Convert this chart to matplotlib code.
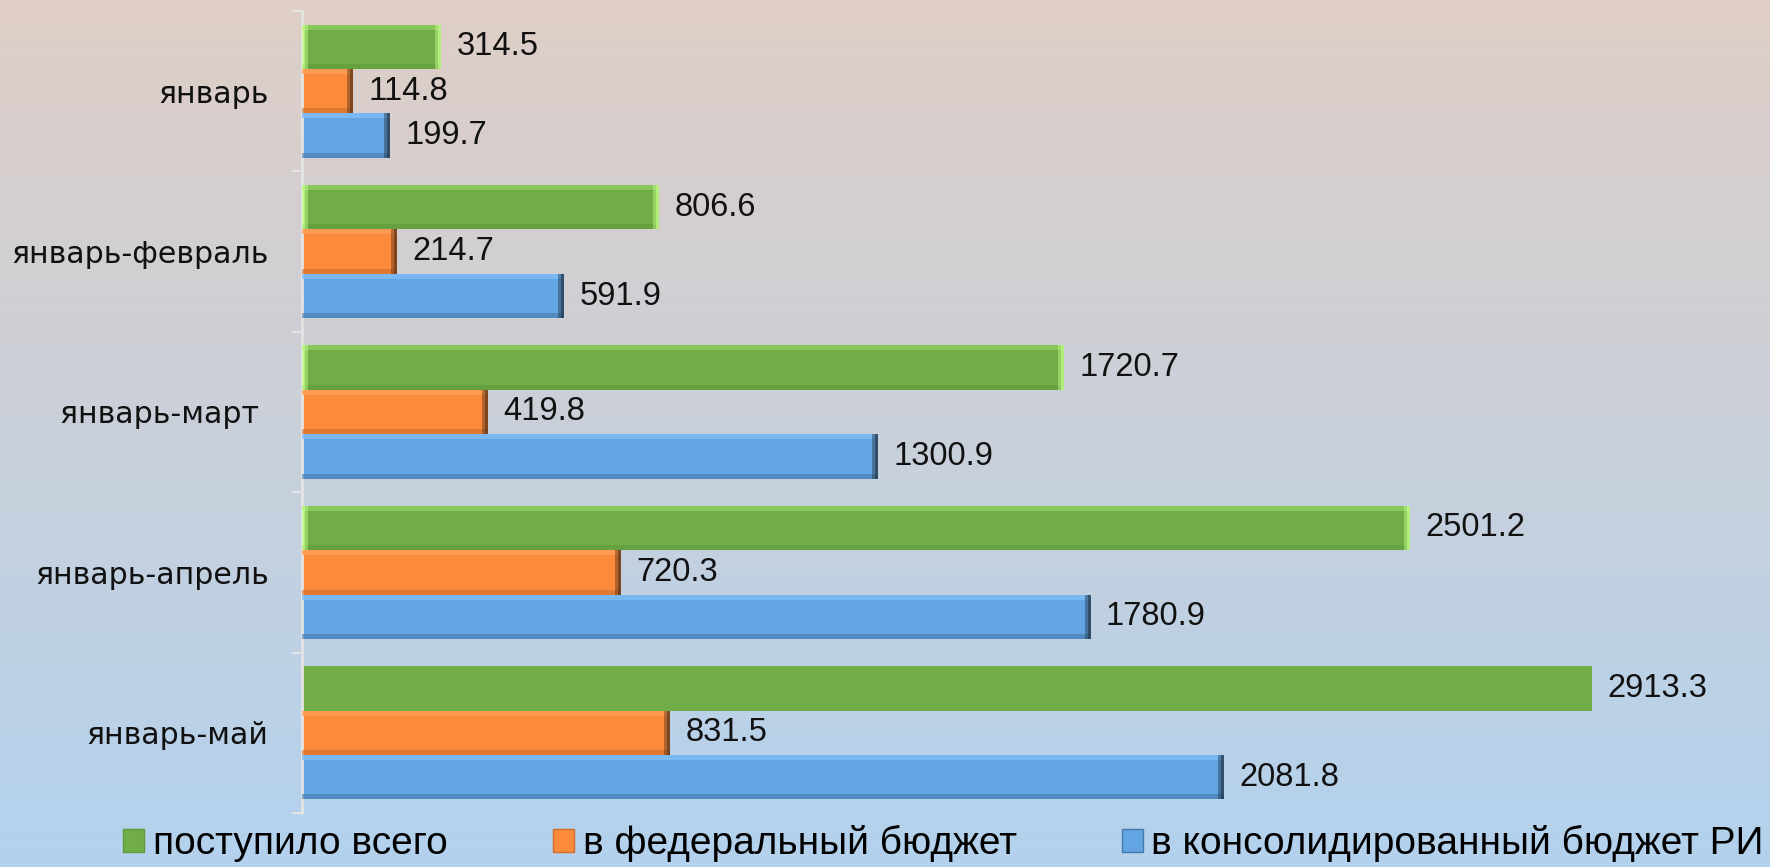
import numpy as np
import matplotlib.pyplot as plt
import matplotlib as mpl
from matplotlib.patches import Patch
from matplotlib.colors import to_rgb

mpl.rcParams.update({"font.family": ["DejaVu Sans"]})

categories = ["январь", "январь-февраль", "январь-март ", "январь-апрель", "январь-май"]
total = [314.5, 806.6, 1720.7, 2501.2, 2913.3]
federal = [114.8, 214.7, 419.8, 720.3, 831.5]
regional = [199.7, 591.9, 1300.9, 1780.9, 2081.8]
series_names = ["поступило всего", "в федеральный бюджет", "в консолидированный бюджет РИ"]

num_font = ["Liberation Sans", "DejaVu Sans"]

fig = plt.figure(figsize=(17.7, 8.67), dpi=100)

# background gradient
bg = fig.add_axes([0, 0, 1, 1], zorder=-10)
top_c = np.array(to_rgb("#dfcec6"))
bot_c = np.array(to_rgb("#b3d2ee"))
t = np.linspace(0, 1, 256)[:, None]
grad = top_c * (1 - t) + bot_c * t
bg.imshow(grad[:, None, :], aspect="auto", extent=[0, 1, 0, 1])
bg.axis("off")

ax = fig.add_axes([302 / 1770, 1 - 813 / 867, (1740 - 302) / 1770, (813 - 11) / 867])
ax.patch.set_alpha(0)

y = np.arange(len(categories))
h = 0.277
px = 3247 / (1740 - 302)  # data units per pixel
cat_px = 1 / 160.4

styles = [
    # face, top stripe, bottom stripe, end colour, left end light
    ("#70ad47", "#8fcf5f", "#5f9a3a", "#c6ff8c", True),
    ("#fb8a3b", "#ff9f58", "#cf6e2a", "#5a3418", False),
    ("#62a5e2", "#80bdf8", "#4479ab", "#22364a", False),
]
data = [total, federal, regional]
offsets = [-h, 0, h]

for vals, off, (face, light, dark, endc, left_light), name in zip(data, offsets, styles, series_names):
    vals = np.array(vals)
    yy = y + off
    bars = ax.barh(yy, vals, height=h, color=face, zorder=2, label=name)
    # simple bevel, skip the flat last green bar
    flat = np.zeros(len(vals), bool)
    if left_light:
        flat[-1] = True
    m = ~flat
    s = 5 * cat_px
    e = 6 * px
    ax.barh(yy[m] - h / 2 + s / 2, vals[m], height=s, color=light, alpha=0.8, zorder=3)
    ax.barh(yy[m] + h / 2 - s / 2, vals[m], height=s, color=dark, alpha=0.6, zorder=3)
    ax.barh(yy[m], e, left=vals[m] - e, height=h, color=endc, alpha=0.45, zorder=4)
    ax.barh(yy[m], e / 2, left=vals[m] - e / 2, height=h, color=endc, alpha=0.6, zorder=4)
    if left_light:
        ax.barh(yy[m], e, left=0, height=h, color=endc, alpha=0.45, zorder=4)
        ax.barh(yy[m], e / 2, left=0, height=h, color=endc, alpha=0.6, zorder=4)
    ax.bar_label(bars, labels=[f"{v:.1f}" for v in vals], padding=11,
                 fontsize=23.5, family=num_font, color="#111111")

ax.set_xlim(0, 3247)
ax.set_ylim(len(categories) - 0.5, -0.5)
ax.set_yticks(y)
ax.set_yticklabels(categories, fontsize=21.6, color="#111111")
ax.set_yticks(np.arange(len(categories) + 1) - 0.5, minor=True)
ax.tick_params(axis="y", which="major", length=0, pad=24)
ax.tick_params(axis="y", which="minor", length=7, width=1.5, color="#e4e4e4", direction="out")
ax.set_xticks([])
ax.spines[["top", "right", "bottom"]].set_visible(False)
ax.spines["left"].set_color("#e4e4e4")
ax.spines["left"].set_linewidth(2)

handles = [Patch(facecolor=s[0], edgecolor=s[2], linewidth=1) for s in styles]
fig.legend(handles, series_names, loc="center", bbox_to_anchor=(0.533, 0.027), ncol=3,
           frameon=False, prop={"family": num_font, "size": 28}, handlelength=0.55,
           handleheight=0.55, handletextpad=0.22, columnspacing=2.7, borderpad=0)

fig.savefig("out.png", dpi=100)
